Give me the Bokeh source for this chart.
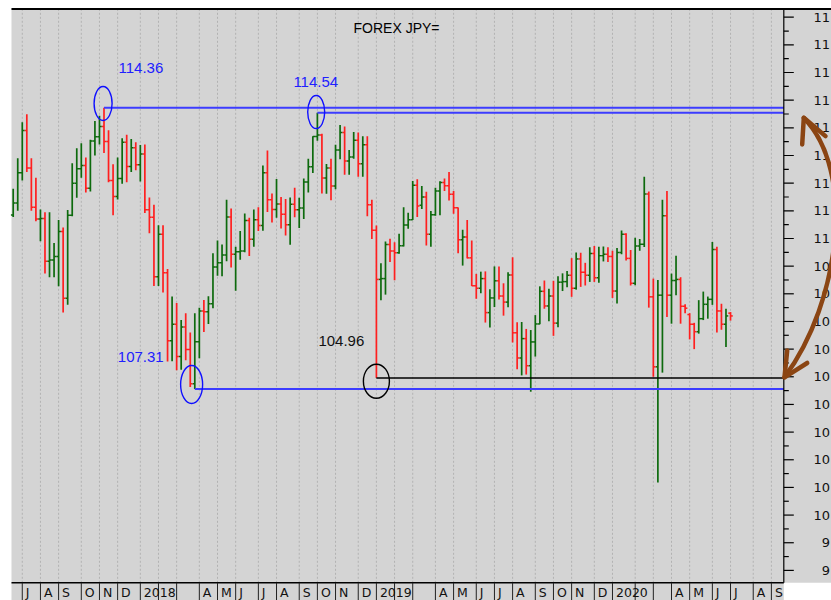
import numpy as np
import pandas as pd
from bokeh.plotting import figure
from bokeh.models import Range1d, ColumnDataSource
from bokeh.core.properties import value
from bokeh.embed import file_html
from bokeh.resources import INLINE

# ---------------- data (weekly USD/JPY bars, Friday-dated) ----------------
first_week = "2017-06-23"
opens = [110.85, 111.28, 112.38, 113.90, 112.55, 111.13, 110.70, 110.72, 109.18, 109.22,
         109.35, 110.25, 107.84, 110.84, 112.00, 112.52, 112.64, 111.82, 113.52, 113.68,
         114.05, 113.51, 112.10, 111.52, 112.17, 113.48, 112.60, 113.28, 112.67, 113.05,
         111.04, 110.77, 108.62, 110.15, 108.76, 106.30, 106.90, 105.73, 106.80, 105.99,
         104.75, 106.27, 107.38, 107.35, 107.64, 108.97, 109.12, 109.40, 110.78, 109.43,
         109.52, 109.55, 110.65, 109.97, 110.68, 110.47, 112.38, 111.40, 111.05, 111.25,
         110.88, 110.50, 111.24, 111.04, 111.10, 112.04, 112.59, 113.69, 113.74, 112.19,
         112.55, 111.90, 113.20, 113.83, 112.80, 112.95, 113.55, 112.70, 113.39, 111.22,
         110.30, 108.52, 108.55, 109.78, 109.55, 109.48, 109.74, 110.49, 110.68, 111.92,
         111.20, 111.50, 110.15, 110.86, 111.72, 112.02, 111.91, 111.60, 111.11, 109.95,
         110.05, 109.30, 108.29, 108.20, 108.55, 107.32, 107.85, 108.47, 107.92, 107.70,
         108.68, 106.59, 105.68, 106.38, 105.40, 106.26, 106.91, 108.09, 107.56, 107.92,
         106.94, 108.42, 108.44, 108.67, 108.20, 109.26, 108.78, 108.67, 109.46, 108.58,
         109.38, 109.43, 109.35, 108.10, 109.49, 110.15, 109.28, 108.38, 109.73, 109.79,
         111.61, 107.89, 105.36, 107.95, 110.82, 107.95, 108.48, 108.52, 107.55, 107.25,
         106.90, 106.63, 107.10, 107.62, 107.80, 109.60, 107.38, 106.90, 107.30]
highs = [111.80, 112.90, 114.20, 114.49, 112.90, 112.20, 111.05, 110.95, 110.95, 109.84,
         110.67, 110.40, 111.03, 112.72, 113.26, 113.44, 112.93, 113.57, 114.25, 114.44,
         114.73, 113.91, 112.68, 112.93, 113.62, 113.75, 113.60, 113.48, 113.38, 113.40,
         111.48, 111.22, 110.48, 110.48, 108.90, 107.90, 107.67, 107.05, 107.30, 106.60,
         107.30, 107.50, 107.78, 107.91, 109.47, 109.93, 109.78, 111.40, 111.08, 109.70,
         110.27, 110.90, 110.75, 111.05, 111.13, 112.64, 113.18, 111.63, 112.15, 111.50,
         111.43, 111.48, 111.83, 111.47, 112.17, 112.88, 113.70, 114.55, 113.79, 112.69,
         112.88, 113.39, 114.10, 114.05, 113.20, 113.85, 113.83, 113.70, 113.70, 111.40,
         110.47, 109.10, 109.89, 109.99, 109.86, 110.17, 111.13, 110.93, 112.08, 112.14,
         111.90, 111.69, 110.99, 111.83, 112.07, 112.17, 112.40, 111.72, 111.12, 110.32,
         110.67, 109.93, 108.72, 108.80, 108.81, 108.16, 108.99, 108.99, 108.38, 108.78,
         109.32, 106.97, 106.98, 106.73, 106.69, 107.23, 108.27, 108.48, 108.18, 108.47,
         108.63, 108.74, 108.82, 109.29, 109.49, 109.48, 109.12, 109.68, 109.73, 109.70,
         109.71, 109.68, 109.56, 109.66, 110.29, 110.19, 109.58, 110.03, 109.98, 112.23,
         111.70, 108.55, 108.50, 111.40, 111.72, 108.73, 109.38, 108.60, 107.62, 107.30,
         106.95, 107.77, 108.08, 107.90, 109.87, 109.70, 107.64, 107.46, 107.34]
lows = [110.78, 111.00, 112.10, 112.40, 111.00, 110.62, 109.90, 108.73, 108.60, 108.60,
        108.27, 107.32, 107.60, 110.80, 111.47, 112.20, 111.66, 111.70, 113.00, 113.40,
        113.09, 112.03, 110.84, 111.41, 111.98, 112.03, 112.40, 112.47, 112.06, 110.92,
        110.19, 108.28, 108.28, 108.05, 105.55, 105.56, 105.24, 105.25, 105.60, 104.63,
        104.56, 105.67, 106.62, 106.91, 107.48, 108.65, 108.63, 109.18, 108.95, 108.11,
        109.23, 109.50, 109.37, 109.70, 110.27, 110.28, 110.96, 110.58, 110.75, 110.36,
        110.11, 109.77, 110.77, 110.38, 110.70, 111.66, 112.37, 113.53, 111.63, 111.62,
        111.38, 111.78, 112.86, 112.30, 112.30, 112.88, 112.23, 112.23, 110.80, 109.98,
        104.96, 107.77, 107.97, 109.15, 108.49, 109.45, 109.71, 110.35, 110.67, 110.78,
        111.07, 109.75, 109.70, 110.82, 110.84, 111.72, 111.37, 110.89, 109.47, 109.02,
        109.28, 108.28, 107.82, 108.02, 106.96, 106.78, 107.52, 107.79, 107.21, 107.51,
        106.24, 105.27, 105.05, 105.08, 104.46, 105.73, 106.90, 107.46, 107.01, 106.48,
        106.79, 108.10, 108.24, 107.89, 108.15, 108.25, 108.30, 108.43, 108.43, 108.40,
        109.17, 109.15, 107.85, 107.65, 109.43, 109.20, 108.30, 108.31, 109.56, 109.69,
        107.50, 105.00, 101.18, 105.15, 107.16, 106.92, 107.95, 106.92, 107.30, 106.35,
        106.00, 106.56, 107.05, 107.10, 107.60, 106.60, 106.70, 106.08, 107.03]
closes = [111.28, 112.38, 113.90, 112.55, 111.13, 110.70, 110.72, 109.18, 109.22, 109.35,
          110.25, 107.84, 110.84, 112.00, 112.52, 112.64, 111.82, 113.52, 113.68, 114.05,
          113.51, 112.10, 111.52, 112.17, 113.48, 112.60, 113.28, 112.67, 113.05, 111.04,
          110.77, 108.62, 110.15, 108.76, 106.30, 106.90, 105.73, 106.80, 105.99, 104.75,
          106.27, 107.38, 107.35, 107.64, 108.97, 109.12, 109.40, 110.78, 109.43, 109.52,
          109.55, 110.65, 109.97, 110.68, 110.47, 112.38, 111.40, 111.05, 111.25, 110.88,
          110.50, 111.24, 111.04, 111.10, 112.04, 112.59, 113.69, 113.74, 112.19, 112.55,
          111.90, 113.20, 113.83, 112.80, 112.95, 113.55, 112.70, 113.39, 111.22, 110.30,
          108.52, 108.55, 109.78, 109.55, 109.48, 109.74, 110.49, 110.68, 111.92, 111.17,
          111.50, 110.15, 110.86, 111.72, 112.02, 111.91, 111.60, 111.11, 109.95, 110.05,
          109.30, 108.29, 108.20, 108.55, 107.32, 107.85, 108.47, 107.92, 107.70, 108.68,
          106.59, 105.68, 106.38, 105.40, 106.26, 106.91, 108.09, 107.56, 107.92, 106.94,
          108.42, 108.44, 108.67, 108.20, 109.26, 108.78, 108.67, 109.46, 108.58, 109.38,
          109.43, 109.35, 108.10, 109.49, 110.15, 109.28, 108.38, 109.73, 109.79, 111.61,
          107.89, 105.36, 107.95, 110.82, 107.95, 108.48, 108.52, 107.55, 107.48, 106.90,
          106.63, 107.10, 107.62, 107.80, 109.60, 107.38, 106.90, 107.20, 107.20]

title_text = "FOREX JPY="
level_labels = ["114.36", "114.54", "107.31", "104.96"]
month_names = {1: None, 2: "", 3: "", 4: "A", 5: "M", 6: "J", 7: "J",
               8: "A", 9: "S", 10: "O", 11: "N", 12: "D"}
tick_months = pd.date_range("2017-07-01", "2020-09-01", freq="MS")
y_major = list(range(98, 119))
y_minor = [v + 0.5 for v in range(98, 118)]

# ---------------- page geometry (pixels -> data) ----------------
X0, DXP = 12.7, 4.54          # page x of first bar, px per week
Y118, DYP = 16.7, 27.66       # page y of 118, px per yen
W, H = 831, 600
DIGIT = 8.27                  # advance of one digit, DejaVu Sans 13px


def PX(px):
    return (px - X0) / DXP


def PY(py):
    return 118 - (py - Y118) / DYP


def dx(p):
    return p / DXP


def dy(p):
    return -p / DYP


n = len(opens)
xi = np.arange(n)
t0 = pd.Timestamp(first_week)

colors = ["#0d6a0d" if c >= o else "#ff1f1f" for o, c in zip(opens, closes)]
src = ColumnDataSource(dict(x=xi, o=opens, h=highs, l=lows, c=closes,
                            xl=xi - 0.5, xr=xi + 0.5, col=colors))

# month tick positions (first weekly bar of each month)
tick_x, tick_lab = [], []
for ms in tick_months:
    first_fri = ms + pd.Timedelta(days=(4 - ms.weekday()) % 7)
    tick_x.append((first_fri - t0).days / 7.0)
    lab = month_names[ms.month]
    tick_lab.append(str(ms.year) if lab is None else lab)

XL, XA, XE = PX(11), PX(783.3), PX(W)
YB, YS, YE = PY(582.3), PY(H), PY(0)
YT = PY(8)

p = figure(width=W, height=H, x_range=Range1d(PX(0), XE), y_range=Range1d(YS, YE),
           output_backend="svg", toolbar_location=None,
           x_axis_location=None, y_axis_location=None, min_border=0,
           background_fill_color="white", border_fill_color="white",
           outline_line_color=None)
for g in p.grid:
    g.visible = False

# backgrounds
p.quad(left=[XL], right=[XE], bottom=[YB], top=[YT], fill_color="#d4d4d4", line_color=None)
p.quad(left=[XL], right=[XA], bottom=[YS], top=[YB], fill_color="#d4d4d4", line_color=None)

# vertical dotted grid at month ticks
p.segment(x0=tick_x, y0=[YB] * len(tick_x), x1=tick_x, y1=[YT] * len(tick_x),
          line_color="#b2b2b2", line_width=1, line_dash="2 2")

# top border
p.segment(x0=[XL], y0=[PY(8.6)], x1=[XE], y1=[PY(8.6)], line_color="black", line_width=2)

# OHLC bars
p.segment(x0="x", y0="l", x1="x", y1="h", source=src, line_color="col", line_width=1.7)
p.segment(x0="xl", y0="o", x1="x", y1="o", source=src, line_color="col", line_width=1.5)
p.segment(x0="x", y0="c", x1="xr", y1="c", source=src, line_color="col", line_width=1.5)

# key levels
lo_a = int(np.argmin(lows[:60]))
hi_a = int(np.argmax(highs[:40]))
hi_b = 60 + int(np.argmax(highs[60:100]))
lo_b = 70 + int(np.argmin(lows[70:100]))
blue = "#3c3cff"
p.segment(x0=[hi_a, hi_b, lo_a], y0=[highs[hi_a], highs[hi_b], lows[lo_a]],
          x1=[XA] * 3, y1=[highs[hi_a], highs[hi_b], lows[lo_a]],
          line_color=blue, line_width=2)
p.segment(x0=[lo_b], y0=[lows[lo_b]], x1=[XA], y1=[lows[lo_b]],
          line_color="black", line_width=1.5)

p.ellipse(x=[hi_a - 0.2, hi_b - 0.26, lo_a - 0.7],
          y=[highs[hi_a] + 0.15, highs[hi_b] + 0.02, lows[lo_a] + 0.16],
          width=[dx(18), dx(17), dx(22)], height=[34 / DYP, 33 / DYP, 38 / DYP],
          fill_color=None, line_color="#1010ff", line_width=1.4)
p.ellipse(x=[lo_b], y=[lows[lo_b] - 0.12], width=[dx(26)], height=[34 / DYP],
          fill_color=None, line_color="black", line_width=1.4)

lab_font = value("Liberation Sans")
p.text(x=[hi_a + dx(14.5), hi_b - dx(24)], y=[highs[hi_a] + 1.43, highs[hi_b] + 1.12],
       text=level_labels[:2], text_color="#2020ff", text_font=lab_font,
       text_font_size="15px", text_baseline="middle", text_align="left")
p.text(x=[lo_a - dx(77)], y=[lows[lo_a] + 1.14], text=[level_labels[2]],
       text_color="#2020ff", text_font=lab_font, text_font_size="15px",
       text_baseline="middle", text_align="left")
p.text(x=[lo_b - dx(58)], y=[lows[lo_b] + 1.33], text=[level_labels[3]],
       text_color="#111111", text_font=lab_font, text_font_size="15px",
       text_baseline="middle", text_align="left")

# title
p.text(x=[PX(396)], y=[PY(27.5)], text=[title_text], text_color="black",
       text_font=lab_font, text_font_size="14px", text_align="center",
       text_baseline="alphabetic")

# right value axis: labels are right-aligned past the window edge in the original,
# so only their leading digits show; keep those visible characters
p.segment(x0=[XA], y0=[YB], x1=[XA], y1=[YT], line_color="black", line_width=1.2)
p.segment(x0=[XA] * len(y_major), y0=y_major, x1=[XA + dx(10)] * len(y_major), y1=y_major,
          line_color="black", line_width=1.2)
p.segment(x0=[XA] * len(y_minor), y0=y_minor, x1=[XA + dx(5)] * len(y_minor), y1=y_minor,
          line_color="black", line_width=1.2)
lab_right = 813.0 + 3 * DIGIT              # right edge of the full labels (beyond window)
y_txt, y_lx = [], []
for v in y_major:
    s = str(v)
    left = lab_right - len(s) * DIGIT
    nvis = int((W + 0.5 - left) // DIGIT)
    y_txt.append(s[:nvis])
    y_lx.append(PX(left))
p.text(x=y_lx, y=y_major, text=y_txt,
       text_color="#111111", text_font=value("DejaVu Sans"), text_font_size="13px",
       text_baseline="middle", text_align="left")

# bottom time axis strip
p.segment(x0=[XL], y0=[YB], x1=[XA], y1=[YB], line_color="black", line_width=1.5)
p.segment(x0=tick_x, y0=[YS] * len(tick_x), x1=tick_x, y1=[YB] * len(tick_x),
          line_color="#222222", line_width=1)
p.text(x=[t + dx(3.5) for t in tick_x], y=[PY(591.5)] * len(tick_x), text=tick_lab,
       text_color="#111111", text_font=value("DejaVu Sans"), text_font_size="12.5px",
       text_baseline="middle", text_align="left")

# hand-drawn brown double arrow between the two levels
brown = "#8b4513"
tx0, ty0 = XA + dx(20), highs[hi_b] + dy(5.2)
tx1, ty1 = XA + dx(0.7), lows[lo_b] + dy(-0.6)
p.bezier(x0=[tx0], y0=[ty0], x1=[tx1], y1=[ty1],
         cx0=[XA + dx(72)], cy0=[highs[hi_b] + dy(58)],
         cx1=[XA + dx(57)], cy1=[lows[lo_b] + dy(-77)],
         line_color=brown, line_width=4.5, line_cap="round")
p.multi_line(xs=[[tx0 - dx(1.6), tx0, tx0 + dx(21.7)],
                 [tx1 + dx(2.7), tx1, tx1 + dx(22.7)]],
             ys=[[ty0 + dy(26.6), ty0, ty0 + dy(18.3)],
                 [ty1 + dy(-26.7), ty1, ty1 + dy(-14.3)]],
             line_color=brown, line_width=4.5, line_cap="round", line_join="round")

open("out.html", "w").write(file_html(p, INLINE))
